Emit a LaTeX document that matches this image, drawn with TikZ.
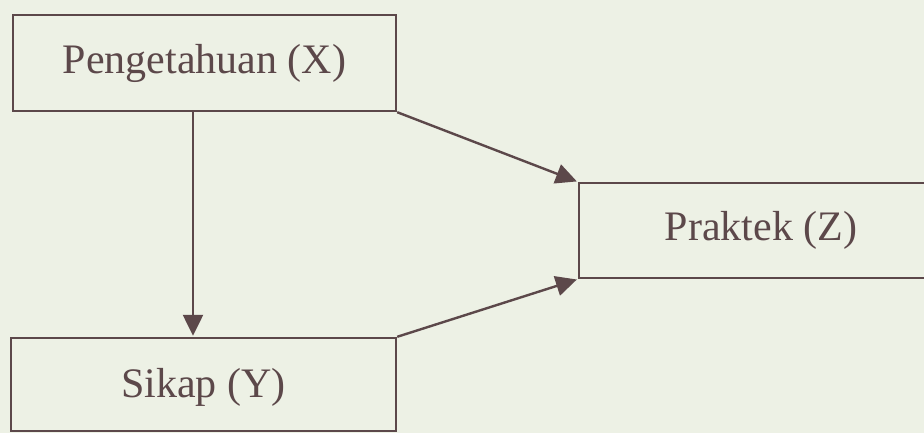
\documentclass[tikz,border=0pt]{standalone}
\usepackage{fontspec}
\setmainfont{Liberation Serif}
\usetikzlibrary{arrows.meta,calc}
\definecolor{bg}{RGB}{237,241,229}
\definecolor{ink}{RGB}{92,72,74}
\tikzset{
  box/.style={draw=ink, line width=2.4pt, text=ink, font=\fontsize{42}{48}\selectfont, inner sep=0pt, anchor=center},
  arr/.style={draw=ink, line width=2.4pt, -{Triangle[length=21pt,width=20pt]}, shorten >=1pt}
}
\begin{document}
\begin{tikzpicture}[x=1pt,y=-1pt]
  \fill[bg] (0,0) rectangle (924,433);
  \useasboundingbox (0,0) rectangle (924,433);
  \clip (0,0) rectangle (924,433);
  \node[box, minimum width=383pt, minimum height=96pt] (X) at (204.5,63) {Pengetahuan (X)};
  \node[box, minimum width=385pt, minimum height=93pt, text depth=0pt] (Y) at (203.5,384.5) {\raisebox{3pt}{Sikap (Y)}};
  \node[box, minimum width=364pt, minimum height=95pt] (Z) at (761,230.5) {Praktek (Z)};
  \coordinate (vx) at (193,0);
  \draw[arr] (X.south -| vx) -- (Y.north -| vx);
  \draw[arr] (X.south east) -- (Z.north west);
  \draw[arr] (Y.north east) -- (Z.south west);
\end{tikzpicture}
\end{document}
